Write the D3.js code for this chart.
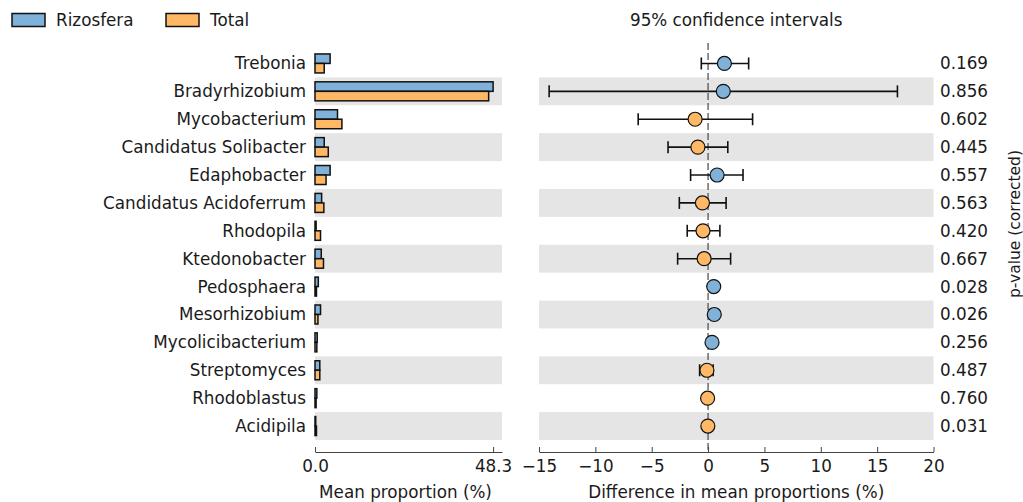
<!DOCTYPE html>
<html>
<head>
<meta charset="utf-8">
<script src="https://cdn.jsdelivr.net/npm/d3@7"></script>
<style>
  html, body { margin: 0; padding: 0; background: #fff; }
  svg { display: block; font-family: "DejaVu Sans", sans-serif; }
  text { fill: #1a1a1a; }
</style>
</head>
<body>
<svg id="chart" width="1023" height="502"></svg>
<script>
// Genera, top to bottom
const taxa = [
  "Trebonia", "Bradyrhizobium", "Mycobacterium", "Candidatus Solibacter",
  "Edaphobacter", "Candidatus Acidoferrum", "Rhodopila", "Ktedonobacter",
  "Pedosphaera", "Mesorhizobium", "Mycolicibacterium", "Streptomyces",
  "Rhodoblastus", "Acidipila"
];
const groups = ["Rizosfera", "Total"];

// Mean proportion (%) per group
const meanRizosfera = [4.1, 48.3, 6.1, 2.5, 4.1, 1.8, 0.3, 1.7, 0.9, 1.5, 0.6, 1.3, 0.5, 0.2];
const meanTotal     = [2.5, 47.1, 7.3, 3.6, 3.0, 2.4, 1.5, 2.3, 0.4, 0.8, 0.5, 1.3, 0.3, 0.4];

// Difference in mean proportions (%) with 95% confidence interval
const diff    = [1.45, 1.35, -1.15, -0.9, 0.8, -0.5, -0.45, -0.35, 0.5, 0.55, 0.35, -0.1, -0.04, -0.02];
const ciLow   = [-0.6, -14.1, -6.2, -3.55, -1.55, -2.55, -1.85, -2.7, 0.25, 0.3, 0.15, -0.75, -0.2, -0.15];
const ciHigh  = [3.6, 16.8, 3.95, 1.75, 3.1, 1.6, 1.05, 2.0, 0.75, 0.8, 0.55, 0.45, 0.15, 0.1];

// Corrected p-values
const pValues = ["0.169", "0.856", "0.602", "0.445", "0.557", "0.563", "0.420",
                 "0.667", "0.028", "0.026", "0.256", "0.487", "0.760", "0.031"];

const meanMax = 48.3;
const diffTicks = [-15, -10, -5, 0, 5, 10, 15, 20];

const colors = { Rizosfera: "#7fb1d9", Total: "#ffb866" };
const bandFill = "#e5e5e5";
const fs = 16.8;

const svg = d3.select("#chart");

// Shared row scale
const y = d3.scaleBand().domain(taxa).range([49.5, 440]).padding(0);
const rowMid = t => y(t) + y.bandwidth() / 2;
const barY = d3.scaleBand().domain(groups).range([-9.5, 9.5]);

// ---- Left panel: mean proportions ----
const xMean = d3.scaleLinear().domain([0, meanMax * 1.05]).range([315, 502]);
const left = svg.append("g");

left.selectAll("rect.band")
  .data(taxa.filter((d, i) => i % 2 === 1))
  .join("rect")
  .attr("class", "band")
  .attr("x", xMean(0)).attr("width", xMean.range()[1] - xMean(0))
  .attr("y", d => y(d)).attr("height", y.bandwidth())
  .attr("fill", bandFill);

const meanRows = taxa.map((t, i) => ({ t, Rizosfera: meanRizosfera[i], Total: meanTotal[i] }));
const rowG = left.selectAll("g.row").data(meanRows).join("g")
  .attr("transform", d => `translate(0,${rowMid(d.t)})`);
rowG.selectAll("rect")
  .data(d => groups.map(g => ({ g, v: d[g] })))
  .join("rect")
  .attr("x", xMean(0))
  .attr("y", d => barY(d.g))
  .attr("width", d => Math.max(0, xMean(d.v) - xMean(0)))
  .attr("height", barY.bandwidth())
  .attr("fill", d => colors[d.g])
  .attr("stroke", "#111")
  .attr("stroke-width", 1.5);

// Category labels
left.selectAll("text.cat").data(taxa).join("text")
  .attr("class", "cat")
  .attr("x", 306).attr("y", d => rowMid(d))
  .attr("text-anchor", "end").attr("dominant-baseline", "central")
  .attr("font-size", fs)
  .text(d => d);

// Bottom axis of left panel
const axisY = 452;
const meanAxis = left.append("g").attr("transform", `translate(0,${axisY})`)
  .call(d3.axisBottom(xMean).tickValues([0, meanMax]).tickFormat(d3.format(".1f"))
    .tickSizeInner(-5).tickSizeOuter(0).tickPadding(8));
meanAxis.select(".domain").attr("stroke", "#444");
meanAxis.selectAll(".tick line").attr("stroke", "#444");
meanAxis.selectAll("text").attr("font-size", fs).attr("font-family", "DejaVu Sans").attr("fill", "#1a1a1a");
left.append("text")
  .attr("x", (xMean(0) + xMean.range()[1]) / 2 - 3).attr("y", 492)
  .attr("text-anchor", "middle").attr("dominant-baseline", "central")
  .attr("font-size", fs).text("Mean proportion (%)");

// ---- Right panel: differences with confidence intervals ----
const xDiff = d3.scaleLinear().domain([-15, 20]).range([539, 933.5]);
const right = svg.append("g");

right.selectAll("rect.band")
  .data(taxa.filter((d, i) => i % 2 === 1))
  .join("rect")
  .attr("class", "band")
  .attr("x", xDiff(-15)).attr("width", xDiff(20) - xDiff(-15))
  .attr("y", d => y(d)).attr("height", y.bandwidth())
  .attr("fill", bandFill);

// Zero reference line
right.append("line")
  .attr("x1", xDiff(0)).attr("x2", xDiff(0))
  .attr("y1", 43).attr("y2", axisY)
  .attr("stroke", "#555").attr("stroke-width", 1.3)
  .attr("stroke-dasharray", "7,3");

const diffRows = taxa.map((t, i) => ({
  t, d: diff[i], lo: ciLow[i], hi: ciHigh[i], g: diff[i] >= 0 ? "Rizosfera" : "Total"
}));
const ci = right.selectAll("g.ci").data(diffRows).join("g")
  .attr("class", "ci")
  .attr("transform", d => `translate(0,${rowMid(d.t)})`);
ci.append("line")
  .attr("x1", d => xDiff(d.lo)).attr("x2", d => xDiff(d.hi))
  .attr("stroke", "#111").attr("stroke-width", 1.6);
ci.selectAll("line.cap").data(d => [d.lo, d.hi]).join("line")
  .attr("class", "cap")
  .attr("x1", v => xDiff(v)).attr("x2", v => xDiff(v))
  .attr("y1", -6).attr("y2", 6)
  .attr("stroke", "#111").attr("stroke-width", 1.6);
ci.append("circle")
  .attr("cx", d => xDiff(d.d)).attr("r", 7)
  .attr("fill", d => colors[d.g])
  .attr("stroke", "#111").attr("stroke-width", 1.2);

const diffAxis = right.append("g").attr("transform", `translate(0,${axisY})`)
  .call(d3.axisBottom(xDiff).tickValues(diffTicks)
    .tickFormat(d => d < 0 ? "\u2212" + Math.abs(d) : String(d))
    .tickSizeInner(-5).tickSizeOuter(0).tickPadding(8));
diffAxis.select(".domain").attr("stroke", "#444");
diffAxis.selectAll(".tick line").attr("stroke", "#444");
diffAxis.selectAll("text").attr("font-size", fs).attr("font-family", "DejaVu Sans").attr("fill", "#1a1a1a");
right.append("text")
  .attr("x", (xDiff(-15) + xDiff(20)) / 2).attr("y", 492)
  .attr("text-anchor", "middle").attr("dominant-baseline", "central")
  .attr("font-size", fs).text("Difference in mean proportions (%)");

right.append("text")
  .attr("x", (xDiff(-15) + xDiff(20)) / 2).attr("y", 20)
  .attr("text-anchor", "middle").attr("dominant-baseline", "central")
  .attr("font-size", fs).text("95% confidence intervals");

// p-values
svg.append("g").selectAll("text").data(taxa).join("text")
  .attr("x", 940).attr("y", d => rowMid(d))
  .attr("dominant-baseline", "central")
  .attr("font-size", fs)
  .text((d, i) => pValues[i]);

svg.append("text")
  .attr("transform", "translate(1015,224) rotate(-90)")
  .attr("text-anchor", "middle").attr("dominant-baseline", "central")
  .attr("font-size", 15.5).text("p-value (corrected)");

// Legend
const legend = svg.append("g").selectAll("g").data(groups).join("g")
  .attr("transform", (d, i) => `translate(${i === 0 ? 12 : 166},20)`);
legend.append("rect")
  .attr("x", 0).attr("y", -6.5).attr("width", 33).attr("height", 13)
  .attr("fill", d => colors[d]).attr("stroke", "#111").attr("stroke-width", 1.5);
legend.append("text")
  .attr("x", 44).attr("y", 0).attr("dominant-baseline", "central")
  .attr("font-size", fs).text(d => d);
</script>
</body>
</html>
